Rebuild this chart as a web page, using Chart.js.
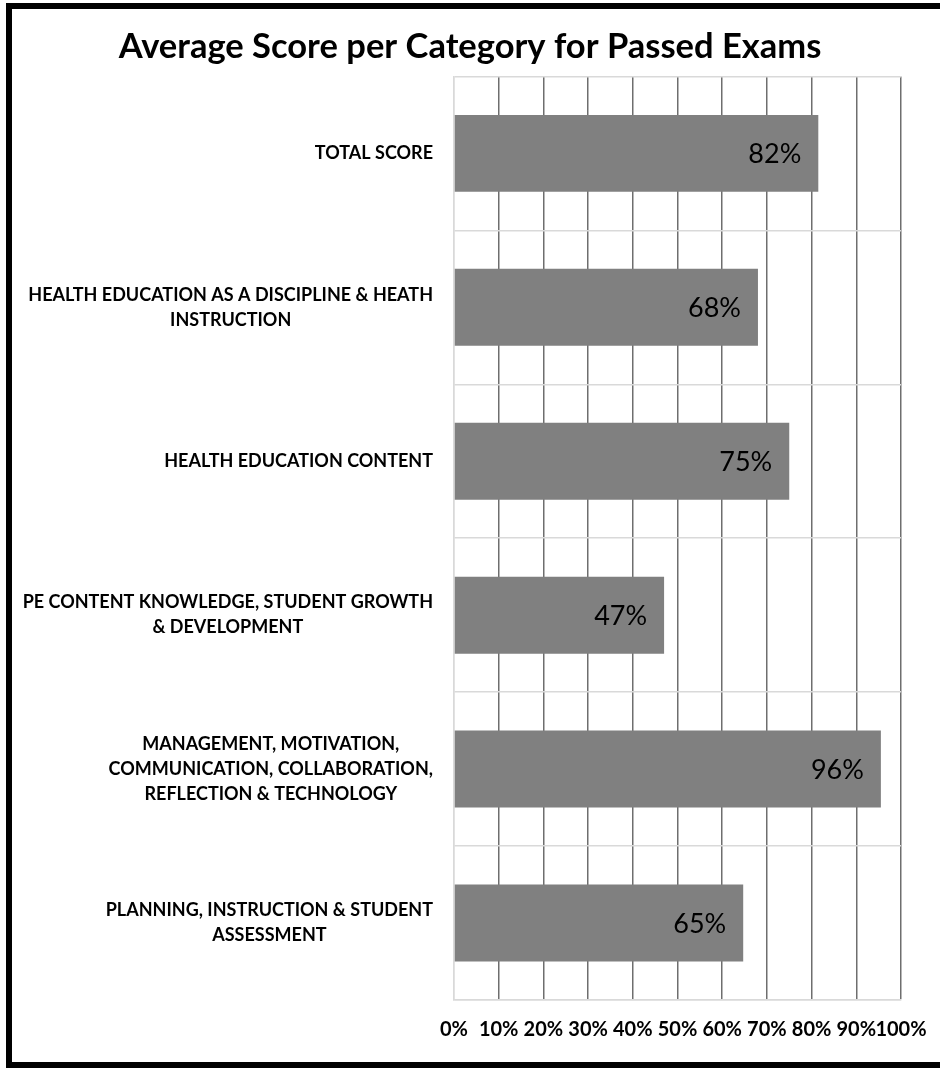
<!DOCTYPE html>
<html>
<head>
<meta charset="utf-8">
<script src="https://cdn.jsdelivr.net/npm/chart.js@4/dist/chart.umd.min.js"></script>
<style>
  html, body { margin: 0; padding: 0; background: #fff; overflow: hidden; }
  #wrap { position: relative; width: 940px; height: 1071px; }
</style>
</head>
<body>
<div id="wrap"><canvas id="myChart" width="940" height="1071"></canvas></div>
<script>
var categories = [
    ["TOTAL SCORE"],
    ["HEALTH EDUCATION AS A DISCIPLINE & HEATH", "INSTRUCTION"],
    ["HEALTH EDUCATION CONTENT"],
    ["PE CONTENT KNOWLEDGE, STUDENT GROWTH", "& DEVELOPMENT"],
    ["MANAGEMENT, MOTIVATION,", "COMMUNICATION, COLLABORATION,", "REFLECTION & TECHNOLOGY"],
    ["PLANNING, INSTRUCTION & STUDENT", "ASSESSMENT"]
];
var scores = [81.5, 68, 75, 47, 95.5, 64.7];
var tickValues = [0, 10, 20, 30, 40, 50, 60, 70, 80, 90, 100];

var FONT = "Lato, 'Open Sans', sans-serif";

// black frame round the whole chart
var framePlugin = {
    id: 'frame',
    afterDraw: function (chart) {
        var ctx = chart.ctx;
        ctx.save();
        ctx.strokeStyle = '#000';
        ctx.lineWidth = 6;
        ctx.strokeRect(9, 6, 940, 1059);
        ctx.restore();
    }
};

// category labels: block right aligned to the axis, lines centred inside the block
var catLabelPlugin = {
    id: 'catLabels',
    afterDraw: function (chart) {
        var ctx = chart.ctx;
        var yScale = chart.scales.y;
        var lineH = 25;
        ctx.save();
        ctx.font = "bold 18px " + FONT;
        ctx.fillStyle = '#000';
        ctx.textAlign = 'center';
        ctx.textBaseline = 'middle';
        for (var i = 0; i < categories.length; i++) {
            var lines = categories[i];
            var maxW = 0;
            for (var j = 0; j < lines.length; j++) {
                maxW = Math.max(maxW, ctx.measureText(lines[j]).width);
            }
            var cx = yScale.right - 21 - maxW / 2;
            var cy = yScale.getPixelForValue(i);
            var y0 = cy - (lines.length - 1) * lineH / 2;
            for (var j = 0; j < lines.length; j++) {
                ctx.fillText(lines[j], cx, y0 + j * lineH);
            }
        }
        ctx.restore();
    }
};

// value labels inside the end of each bar
var valueLabelPlugin = {
    id: 'valueLabels',
    afterDatasetsDraw: function (chart) {
        var ctx = chart.ctx;
        var meta = chart.getDatasetMeta(0);
        ctx.save();
        ctx.font = "27px " + FONT;
        ctx.fillStyle = '#000';
        ctx.textAlign = 'right';
        ctx.textBaseline = 'middle';
        meta.data.forEach(function (bar, i) {
            ctx.fillText(Math.round(scores[i]) + '%', bar.x - 17, bar.y + 1);
        });
        ctx.restore();
    }
};

var ctx = document.getElementById('myChart').getContext('2d');

var myChart = new Chart(ctx, {
    type: 'bar',
    data: {
        labels: categories,
        datasets: [{
            data: scores,
            backgroundColor: '#808080',
            borderWidth: 0,
            barPercentage: 0.5,
            categoryPercentage: 1.0
        }]
    },
    options: {
        indexAxis: 'y',
        responsive: false,
        animation: false,
        layout: { padding: 0 },
        plugins: {
            legend: { display: false },
            tooltip: { enabled: false },
            title: {
                display: true,
                text: 'Average Score per Category for Passed Exams',
                color: '#000',
                font: { family: FONT, size: 34.5, weight: 'bold', lineHeight: 1.2 },
                padding: { top: 26, bottom: 9 }
            }
        },
        scales: {
            x: {
                min: 0,
                max: 100,
                afterBuildTicks: function (scale) {
                    scale.ticks = tickValues.map(function (v) { return { value: v }; });
                },
                afterFit: function (scale) {
                    scale.height = 71;
                    scale.paddingLeft = 0;
                    scale.paddingRight = 39;
                },
                grid: {
                    drawTicks: false,
                    tickLength: 0,
                    lineWidth: 1.5,
                    color: function (c) { return c.index === 0 ? '#d9d9d9' : '#6e6e6e'; }
                },
                border: { display: true, color: '#d9d9d9', width: 1.5 },
                ticks: {
                    padding: 18,
                    color: '#000',
                    font: { family: FONT, size: 20, weight: 'bold' },
                    maxRotation: 0,
                    autoSkip: false,
                    callback: function (v) { return v + '%'; }
                }
            },
            y: {
                afterFit: function (scale) { scale.width = 454; },
                grid: {
                    offset: true,
                    drawTicks: false,
                    tickLength: 0,
                    lineWidth: 1.5,
                    color: '#d9d9d9'
                },
                border: { display: true, color: '#d9d9d9', width: 1.5 },
                ticks: { display: false }
            }
        }
    },
    plugins: [catLabelPlugin, valueLabelPlugin, framePlugin]
});
</script>
</body>
</html>
